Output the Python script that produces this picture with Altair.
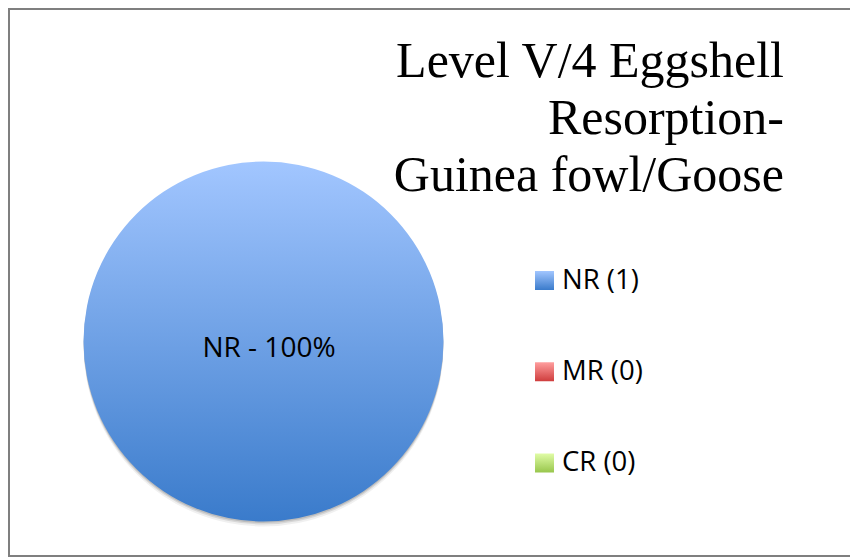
import altair as alt
import pandas as pd

# ---- data ----
categories = ["NR", "MR", "CR"]
counts = [1, 0, 0]
title_lines = ["Level V/4 Eggshell", "Resorption-", "Guinea fowl/Goose"]

# gradient colours (top, bottom) per category
grad_top = ["#a2c6ff", "#ff9e9e", "#e0fca6"]
grad_bottom = ["#3a7bcb", "#cf3d3d", "#98c64c"]

df = pd.DataFrame({"cat": categories, "count": counts, "order": list(range(len(categories)))})

W, H = 842, 550
CX, CY, R = 255.5, 333.5, 180
BORDER = "#7f7f7f"


def gradient(c1, c2):
    return alt.Gradient(
        gradient="linear", x1=0, y1=0, x2=0, y2=1,
        stops=[alt.GradientStop(color=c1, offset=0), alt.GradientStop(color=c2, offset=1)],
    )


base = (
    alt.Chart(df)
    .transform_joinaggregate(total="sum(count)")
    .transform_window(cum="sum(count)", sort=[alt.SortField("order")], frame=[None, 0])
    .transform_calculate(
        start="(datum.cum - datum.count) / datum.total",
        end="datum.cum / datum.total",
        pct="datum.count / datum.total",
    )
)

theta_scale = alt.Scale(domain=[0, 1], range=[0, 6.283185307])

layers = []

# chart border (top, left, bottom; right edge lies outside the window)
one = alt.Chart(pd.DataFrame({"t": [0]}))
layers.append(one.mark_rule(color=BORDER, strokeWidth=2).encode(x=alt.value(0), x2=alt.value(W), y=alt.value(1)))
layers.append(one.mark_rule(color=BORDER, strokeWidth=2).encode(x=alt.value(1), y=alt.value(0), y2=alt.value(549)))
layers.append(one.mark_rule(color=BORDER, strokeWidth=2).encode(x=alt.value(0), x2=alt.value(W), y=alt.value(548)))

# soft shadow under the pie
for dy, op in [(5, 0.06), (3, 0.10), (1.5, 0.12)]:
    layers.append(
        base.mark_arc(radius=R, color="#000000", opacity=op).encode(
            theta=alt.Theta("start:Q", scale=theta_scale),
            theta2="end:Q",
            x=alt.value(CX),
            y=alt.value(CY + dy),
        )
    )

# pie slices (one layer per category so each gets its own gradient)
for c, t, b in zip(categories, grad_top, grad_bottom):
    layers.append(
        base.transform_filter(alt.datum.cat == c)
        .mark_arc(radius=R, fill=gradient(t, b), stroke=None)
        .encode(
            theta=alt.Theta("start:Q", scale=theta_scale),
            theta2="end:Q",
            x=alt.value(CX),
            y=alt.value(CY),
        )
    )

# slice label
layers.append(
    base.transform_filter(alt.datum.count > 0)
    .transform_calculate(label="datum.cat + ' - ' + format(datum.pct * 100, '.0f') + '%'")
    .mark_text(font="Open Sans", fontSize=28, color="#000000", align="center", baseline="alphabetic")
    .encode(text="label:N", x=alt.value(261), y=alt.value(348.5))
)

# legend
leg_y = alt.Y("cat:N", scale=alt.Scale(type="point", domain=categories, range=[272.5, 455], padding=0), axis=None)
for c, t, b in zip(categories, grad_top, grad_bottom):
    layers.append(
        base.transform_filter(alt.datum.cat == c)
        .mark_square(size=19 * 19, fill=gradient(t, b), filled=True, opacity=1, strokeWidth=0)
        .encode(x=alt.value(536.5), y=leg_y)
    )
layers.append(
    base.transform_calculate(label="datum.cat + ' (' + datum.count + ')'")
    .mark_text(font="Open Sans", fontSize=27.5, color="#000000", align="left", baseline="middle")
    .encode(text="label:N", x=alt.value(554), y=leg_y)
)

# title
layers.append(
    one.mark_text(
        text=title_lines, font="Liberation Serif", fontSize=50, lineHeight=57,
        align="right", baseline="alphabetic", color="#000000",
    )
    .encode(x=alt.value(776), y=alt.value(69))
)

chart = (
    alt.layer(*layers)
    .properties(width=W, height=H, autosize=alt.AutoSizeParams(type="none"), padding=0)
    .configure_view(strokeWidth=0)
    .configure(background="#ffffff")
)

chart.save("out.html", embed_options={"renderer": "svg", "actions": False})
